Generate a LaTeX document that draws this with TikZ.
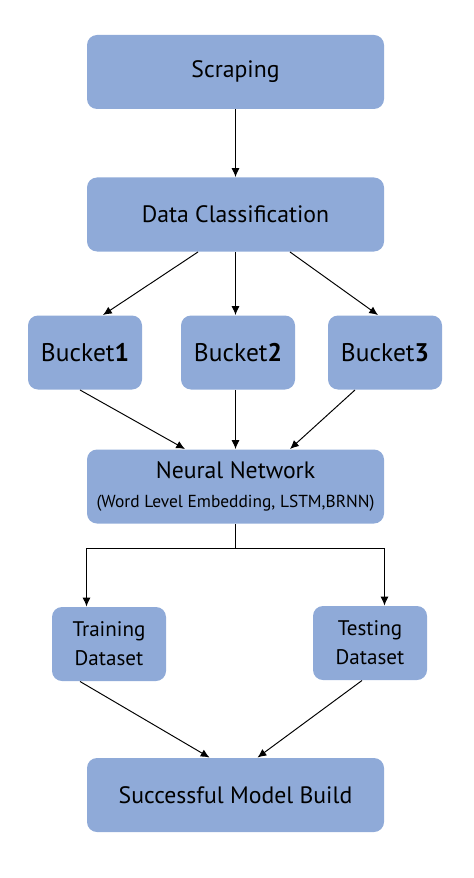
\documentclass[tikz,border=0pt]{standalone}
\usepackage{fontspec}
\setmainfont{PT Sans}
\usetikzlibrary{arrows.meta}
\definecolor{boxblue}{RGB}{143,170,216}

\tikzstyle{every node}=[rectangle, rounded corners=0.2cm, fill=boxblue, align=center, inner sep=0pt]
\tikzstyle{wide}=[minimum width=5.94cm, minimum height=1.48cm, font=\fontsize{13.5}{16}\selectfont]
\tikzstyle{small}=[minimum width=2.28cm, minimum height=1.48cm]

\begin{document}
\begin{tikzpicture}[>={Latex[length=5pt,width=4.5pt]}, line width=0.55pt]
\useasboundingbox (0,0) rectangle (9.48,-17.56);

\node [wide] (scrap) at (4.71,-1.44) {Scraping};
\node [wide, below of=scrap, node distance=2.85cm] (dc) {Data Classification};

\node [small, below of=dc, node distance=2.76cm, xshift=0.05cm, font=\fontsize{14.5}{17}\selectfont] (b2) {Bucket\textbf{2}};
\node [small, left of=b2, node distance=3.06cm, font=\fontsize{14.5}{17}\selectfont] (b1) {Bucket\textbf{1}};
\node [small, right of=b2, node distance=2.94cm, font=\fontsize{14.5}{17}\selectfont] (b3) {Bucket\textbf{3}};

\node [wide, below of=dc, node distance=5.44cm] (nn) {Neural Network\\[1pt]{\fontsize{9.9}{12}\selectfont (Word Level Embedding, LSTM,BRNN)}};

\node [small, below of=nn, node distance=3.15cm, xshift=-2.53cm, font=\fontsize{12}{16.5}\selectfont] (train) {Training\\Dataset};
\node [small, below of=nn, node distance=3.13cm, xshift=2.69cm, font=\fontsize{12}{16.5}\selectfont] (test) {Testing\\Dataset};

\node [wide, below of=nn, node distance=6.17cm] (succ) {Successful Model Build};

\coordinate (splitL) at ([yshift=-0.49cm]nn.south west);
\coordinate (splitM) at ([yshift=-0.49cm]nn.south);
\coordinate (splitR) at ([yshift=-0.49cm]nn.south east);

\path [->]
		(scrap) edge (dc)
		([xshift=-0.75cm]dc.south) edge ([xshift=0.36cm]b1.north)
		(dc.south) edge (dc.south |- b2.north)
		([xshift=1.09cm]dc.south) edge ([xshift=-0.14cm]b3.north)

		([xshift=-0.1cm]b1.south) edge ([xshift=-1.01cm]nn.north)
		(b2.south -| nn.north) edge (nn.north)
		([xshift=-0.6cm]b3.south) edge ([xshift=1.09cm]nn.north)

		(splitL) edge (splitL |- train.north)
		(splitR) edge (splitR |- test.north)

		([xshift=-0.58cm]train.south) edge ([xshift=-0.52cm]succ.north)
		([xshift=-0.16cm]test.south) edge ([xshift=0.44cm]succ.north)
;
\draw (nn.south) -- (splitM);
\draw (splitL) -- (splitR);

\end{tikzpicture}
\end{document}
